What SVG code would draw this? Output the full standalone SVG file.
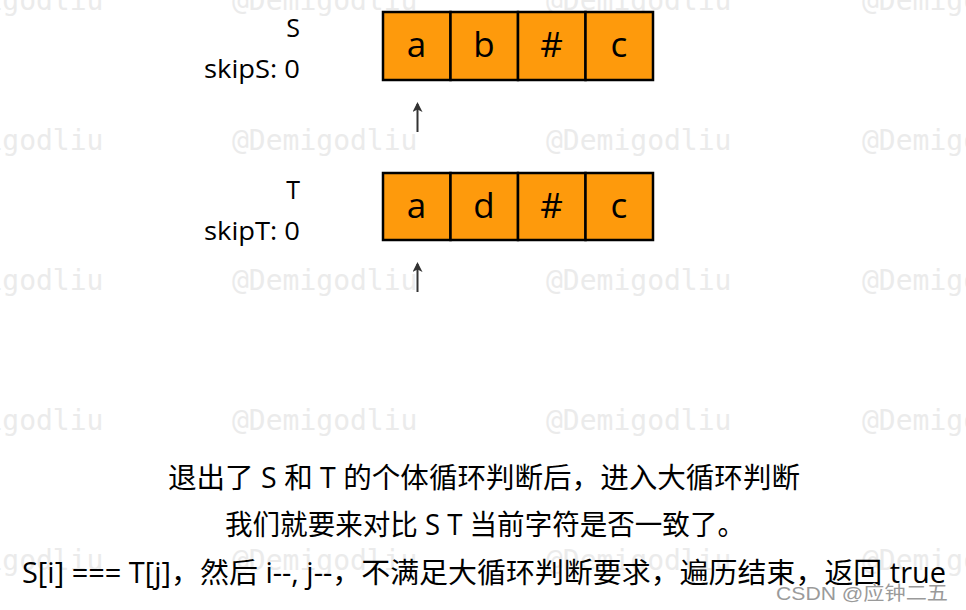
<svg xmlns="http://www.w3.org/2000/svg" width="966" height="610" viewBox="0 0 966 610">
<style>
.wm{font-family:"DejaVu Sans Mono","Liberation Mono",monospace;font-size:28px;fill:#ebebeb}
.cell{fill:#FE9A0C;stroke:#000;stroke-width:2.5}
.ch{font-family:"Open Sans","Noto Sans",sans-serif;font-size:35px;fill:#000;text-anchor:middle}
.lbl{font-family:"Open Sans","Noto Sans",sans-serif;font-size:25px;fill:#000;text-anchor:end}
.cap{font-family:"Open Sans","Noto Sans","Noto Sans CJK SC",sans-serif;font-size:28.6px;fill:#000}
.ptr{stroke:#333;stroke-width:2;fill:none}
</style>
<defs>
<marker id="ah" viewBox="0 0 10 10" refX="8" refY="5" markerWidth="10" markerHeight="10" markerUnits="userSpaceOnUse" orient="auto">
<path d="M0,0 L10,5 L0,10 L2.5,5 Z" fill="#333"/>
</marker>
</defs>
<rect width="966" height="610" fill="#fff"/>
<g id="watermarks">
<text class="wm" x="-82" y="10">@Demigodliu</text><text class="wm" x="232" y="10">@Demigodliu</text><text class="wm" x="546" y="10">@Demigodliu</text><text class="wm" x="862" y="10">@Demigodliu</text>
<text class="wm" x="-82" y="150">@Demigodliu</text><text class="wm" x="232" y="150">@Demigodliu</text><text class="wm" x="546" y="150">@Demigodliu</text><text class="wm" x="862" y="150">@Demigodliu</text>
<text class="wm" x="-82" y="290">@Demigodliu</text><text class="wm" x="232" y="290">@Demigodliu</text><text class="wm" x="546" y="290">@Demigodliu</text><text class="wm" x="862" y="290">@Demigodliu</text>
<text class="wm" x="-82" y="430">@Demigodliu</text><text class="wm" x="232" y="430">@Demigodliu</text><text class="wm" x="546" y="430">@Demigodliu</text><text class="wm" x="862" y="430">@Demigodliu</text>
<text class="wm" x="-82" y="570">@Demigodliu</text><text class="wm" x="232" y="570">@Demigodliu</text><text class="wm" x="546" y="570">@Demigodliu</text><text class="wm" x="862" y="570">@Demigodliu</text>
</g>
<g id="labelS">
<text class="lbl" x="300" y="37">S</text>
<text class="lbl" x="300" y="78" textLength="96" lengthAdjust="spacingAndGlyphs">skipS: 0</text>
</g>
<g id="arrayS">
<rect class="cell" x="383" y="12" width="67.5" height="68"/>
<rect class="cell" x="450.5" y="12" width="67.5" height="68"/>
<rect class="cell" x="518" y="12" width="67.5" height="68"/>
<rect class="cell" x="585.5" y="12" width="67.5" height="68"/>
<text class="ch" x="416.5" y="57">a</text>
<text class="ch" x="484" y="57">b</text>
<text class="ch" x="551.5" y="57">#</text>
<text class="ch" x="619" y="57">c</text>
</g>
<g id="labelT">
<text class="lbl" x="300" y="199">T</text>
<text class="lbl" x="300" y="240" textLength="96" lengthAdjust="spacingAndGlyphs">skipT: 0</text>
</g>
<g id="arrayT">
<rect class="cell" x="383" y="173" width="67.5" height="67"/>
<rect class="cell" x="450.5" y="173" width="67.5" height="67"/>
<rect class="cell" x="518" y="173" width="67.5" height="67"/>
<rect class="cell" x="585.5" y="173" width="67.5" height="67"/>
<text class="ch" x="416.5" y="218">a</text>
<text class="ch" x="484" y="218">d</text>
<text class="ch" x="551.5" y="218">#</text>
<text class="ch" x="619" y="218">c</text>
</g>
<g id="connectors">
<line class="ptr" x1="417.5" y1="132" x2="417.5" y2="104" marker-end="url(#ah)"/>
<line class="ptr" x1="417.5" y1="292" x2="417.5" y2="264" marker-end="url(#ah)"/>
</g>
<g id="caption">
<text class="cap" x="168" y="488" textLength="632" lengthAdjust="spacingAndGlyphs">退出了 S 和 T 的个体循环判断后，进入大循环判断</text>
<text class="cap" x="225" y="535" textLength="520" lengthAdjust="spacingAndGlyphs">我们就要来对比 S T 当前字符是否一致了。</text>
<text class="cap" x="22" y="583" textLength="924" lengthAdjust="spacingAndGlyphs">S[i] === T[j]，然后 i--, j--，不满足大循环判断要求，遍历结束，返回 true</text>
</g>
<g id="csdn">
<text x="776" y="600" textLength="172" lengthAdjust="spacingAndGlyphs" font-family="'Liberation Sans','Noto Sans CJK SC',sans-serif" font-size="19" fill="#9a9a9a" stroke="#fff" stroke-width="0.6" paint-order="stroke">CSDN @应钟二五</text>
</g>
</svg>
